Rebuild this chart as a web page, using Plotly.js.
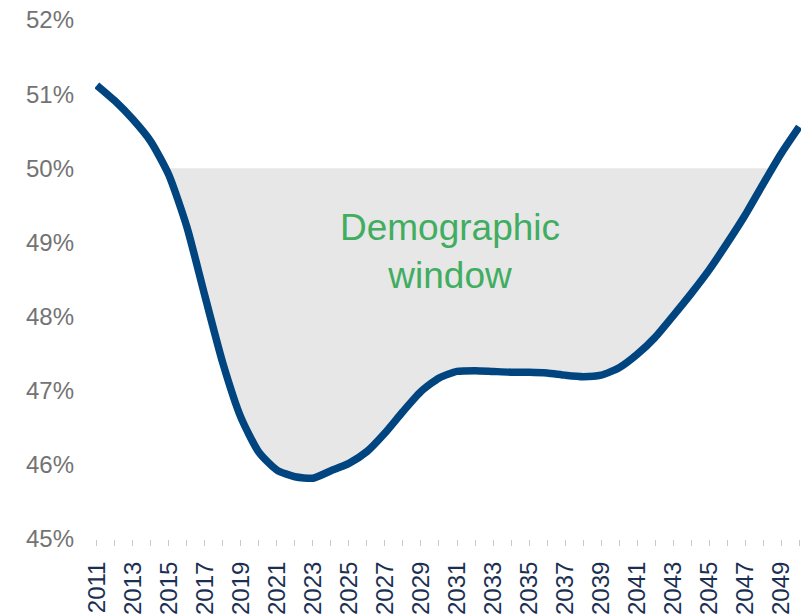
<!DOCTYPE html>
<html>
<head>
<meta charset="utf-8">
<script src="https://cdn.plot.ly/plotly-3.0.1.min.js"></script>
<style>html,body{margin:0;padding:0;background:#fff;}#chart{width:807px;height:615px;}</style>
</head>
<body>
<div id="chart"></div>
<script>
const years = [2011,2012,2013,2014,2015,2016,2017,2018,2019,2020,2021,2022,2023,2024,2025,2026,2027,2028,2029,2030,2031,2032,2033,2034,2035,2036,2037,2038,2039,2040,2041,2042,2043,2044,2045,2046,2047,2048,2049,2050];
const values = [51.12,50.91,50.66,50.36,49.91,49.21,48.28,47.37,46.64,46.17,45.93,45.84,45.82,45.92,46.02,46.18,46.43,46.72,46.99,47.17,47.26,47.27,47.26,47.25,47.25,47.24,47.21,47.19,47.21,47.31,47.49,47.72,48.01,48.31,48.63,48.99,49.37,49.79,50.20,50.56];
const threshold = 50;
const tickYears = [2011,2013,2015,2017,2019,2021,2023,2025,2027,2029,2031,2033,2035,2037,2039,2041,2043,2045,2047,2049];
const tickLabels = tickYears.map(String);
const yTicks = [45,46,47,48,49,50,51,52];
const yTickLabels = ['45%','46%','47%','48%','49%','50%','51%','52%'];
const annotationText = 'Demographic<br>window';

// polygon of region below threshold (crossing points by linear interpolation)
const fx = [], fy = [];
for (let i = 0; i < years.length; i++) {
  const v = values[i];
  if (i > 0) {
    const p = values[i-1];
    if ((p - threshold) * (v - threshold) < 0) {
      const t = (threshold - p) / (v - p);
      fx.push(years[i-1] + t * (years[i] - years[i-1]));
      fy.push(threshold);
    }
  }
  if (v <= threshold) { fx.push(years[i]); fy.push(v); }
}

const traces = [
  {x: fx, y: fy, type: 'scatter', mode: 'lines', fill: 'toself', fillcolor: '#e7e7e7',
   line: {width: 0, color: 'rgba(0,0,0,0)'}, hoverinfo: 'skip', showlegend: false},
  {x: years, y: values, type: 'scatter', mode: 'lines',
   line: {color: '#00457f', width: 7.5, shape: 'spline', smoothing: 0.6}, showlegend: false}
];

const layout = {
  width: 807, height: 615,
  margin: {l: 95, r: 6, t: 20, b: 76},
  paper_bgcolor: '#ffffff', plot_bgcolor: '#ffffff',
  showlegend: false,
  xaxis: {
    range: [2010.9, 2050.1],
    tickmode: 'array', tickvals: tickYears, ticktext: tickLabels,
    tickangle: -90,
    ticks: 'outside', ticklen: 6, tickcolor: '#c8c8c8', tickwidth: 1,
    minor: {tickmode: 'linear', tick0: 2011, dtick: 1, ticks: 'outside', ticklen: 6, tickcolor: '#c8c8c8', tickwidth: 1, showgrid: false},
    ticklabelstandoff: 6,
    tickfont: {family: 'Liberation Sans, Arial, sans-serif', size: 24, color: '#1b2f52'},
    showgrid: false, zeroline: false, showline: false, fixedrange: true
  },
  yaxis: {
    range: [45, 52],
    tickmode: 'array', tickvals: yTicks, ticktext: yTickLabels,
    ticks: '', ticklabelstandoff: 20,
    tickfont: {family: 'Liberation Sans, Arial, sans-serif', size: 24, color: '#737373'},
    showgrid: false, zeroline: false, showline: false, fixedrange: true
  },
  annotations: [{
    x: 2030.6, y: 48.88, xref: 'x', yref: 'y', text: annotationText, showarrow: false,
    font: {family: 'Liberation Sans, Arial, sans-serif', size: 37, color: '#40ad60'},
    align: 'center'
  }]
};

Plotly.newPlot('chart', traces, layout, {displayModeBar: false, staticPlot: true});
</script>
</body>
</html>
